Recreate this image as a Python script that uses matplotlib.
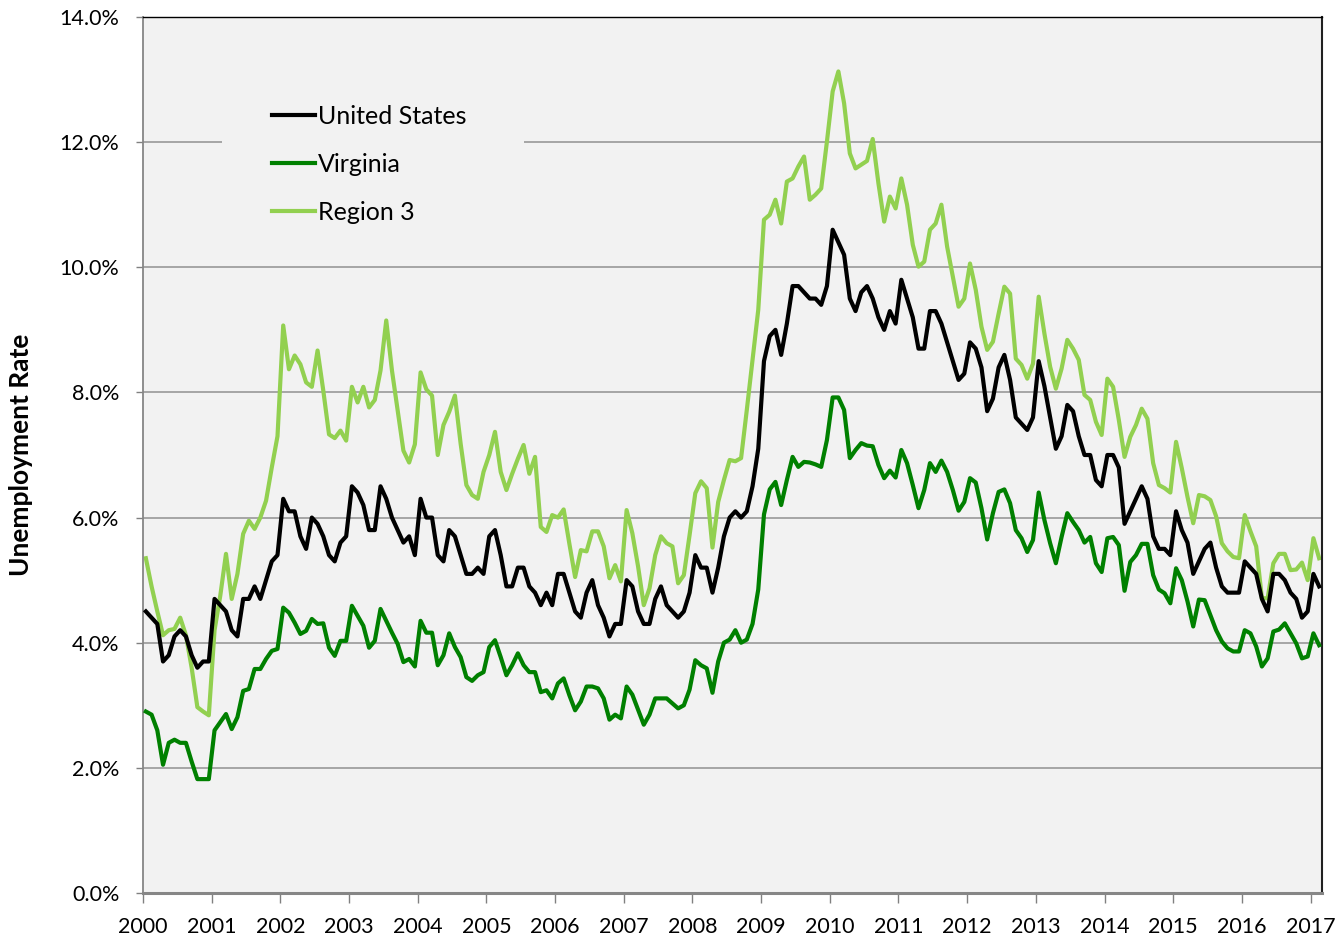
import numpy as np
import matplotlib.pyplot as plt
from matplotlib.patches import Rectangle
from matplotlib.ticker import PercentFormatter

plt.rcParams['font.family'] = ['Lato', 'DejaVu Sans']

# monthly rates, Jan 2000 - Feb 2017
years = [str(y) for y in range(2000, 2018)]

united_states = [
    4.5, 4.4, 4.3, 3.7, 3.8, 4.1, 4.2, 4.1, 3.8, 3.6, 3.7, 3.7,
    4.7, 4.6, 4.5, 4.2, 4.1, 4.7, 4.7, 4.9, 4.7, 5.0, 5.3, 5.4,
    6.3, 6.1, 6.1, 5.7, 5.5, 6.0, 5.9, 5.7, 5.4, 5.3, 5.6, 5.7,
    6.5, 6.4, 6.2, 5.8, 5.8, 6.5, 6.3, 6.0, 5.8, 5.6, 5.7, 5.4,
    6.3, 6.0, 6.0, 5.4, 5.3, 5.8, 5.7, 5.4, 5.1, 5.1, 5.2, 5.1,
    5.7, 5.8, 5.4, 4.9, 4.9, 5.2, 5.2, 4.9, 4.8, 4.6, 4.8, 4.6,
    5.1, 5.1, 4.8, 4.5, 4.4, 4.8, 5.0, 4.6, 4.4, 4.1, 4.3, 4.3,
    5.0, 4.9, 4.5, 4.3, 4.3, 4.7, 4.9, 4.6, 4.5, 4.4, 4.5, 4.8,
    5.4, 5.2, 5.2, 4.8, 5.2, 5.7, 6.0, 6.1, 6.0, 6.1, 6.5, 7.1,
    8.5, 8.9, 9.0, 8.6, 9.1, 9.7, 9.7, 9.6, 9.5, 9.5, 9.4, 9.7,
    10.6, 10.4, 10.2, 9.5, 9.3, 9.6, 9.7, 9.5, 9.2, 9.0, 9.3, 9.1,
    9.8, 9.5, 9.2, 8.7, 8.7, 9.3, 9.3, 9.1, 8.8, 8.5, 8.2, 8.3,
    8.8, 8.7, 8.4, 7.7, 7.9, 8.4, 8.6, 8.2, 7.6, 7.5, 7.4, 7.6,
    8.5, 8.1, 7.6, 7.1, 7.3, 7.8, 7.7, 7.3, 7.0, 7.0, 6.6, 6.5,
    7.0, 7.0, 6.8, 5.9, 6.1, 6.3, 6.5, 6.3, 5.7, 5.5, 5.5, 5.4,
    6.1, 5.8, 5.6, 5.1, 5.3, 5.5, 5.6, 5.2, 4.9, 4.8, 4.8, 4.8,
    5.3, 5.2, 5.1, 4.7, 4.5, 5.1, 5.1, 5.0, 4.8, 4.7, 4.4, 4.5,
    5.1, 4.9,
]

virginia = [
    2.90, 2.85, 2.60, 2.05, 2.40, 2.45, 2.40, 2.40, 2.10, 1.82, 1.82, 1.82,
    2.60, 2.73, 2.86, 2.62, 2.81, 3.23, 3.26, 3.58, 3.58, 3.74, 3.87, 3.90,
    4.56, 4.48, 4.32, 4.14, 4.19, 4.38, 4.30, 4.31, 3.92, 3.79, 4.03, 4.03,
    4.59, 4.43, 4.27, 3.92, 4.03, 4.54, 4.35, 4.16, 3.98, 3.69, 3.74, 3.62,
    4.35, 4.16, 4.16, 3.64, 3.80, 4.15, 3.93, 3.77, 3.45, 3.39, 3.48, 3.53,
    3.93, 4.04, 3.77, 3.48, 3.64, 3.83, 3.64, 3.53, 3.53, 3.21, 3.24, 3.11,
    3.35, 3.43, 3.16, 2.92, 3.06, 3.30, 3.30, 3.27, 3.11, 2.77, 2.85, 2.79,
    3.30, 3.17, 2.93, 2.69, 2.85, 3.11, 3.11, 3.11, 3.03, 2.95, 3.00, 3.25,
    3.72, 3.64, 3.59, 3.20, 3.70, 4.00, 4.05, 4.20, 4.00, 4.05, 4.30, 4.85,
    6.05, 6.45, 6.57, 6.20, 6.60, 6.97, 6.81, 6.89, 6.88, 6.85, 6.81, 7.24,
    7.92, 7.92, 7.72, 6.95, 7.08, 7.19, 7.15, 7.14, 6.84, 6.63, 6.75, 6.64,
    7.08, 6.87, 6.52, 6.15, 6.44, 6.87, 6.73, 6.91, 6.73, 6.44, 6.11, 6.25,
    6.63, 6.56, 6.15, 5.65, 6.07, 6.41, 6.45, 6.23, 5.80, 5.67, 5.45, 5.64,
    6.40, 5.96, 5.59, 5.27, 5.69, 6.07, 5.93, 5.80, 5.60, 5.69, 5.27, 5.13,
    5.67, 5.69, 5.56, 4.83, 5.29, 5.40, 5.58, 5.58, 5.08, 4.85, 4.79, 4.63,
    5.19, 5.00, 4.66, 4.26, 4.69, 4.68, 4.44, 4.20, 4.02, 3.91, 3.86, 3.86,
    4.20, 4.15, 3.94, 3.62, 3.75, 4.18, 4.21, 4.31, 4.15, 3.99, 3.75, 3.78,
    4.15, 3.96,
]

region_3 = [
    5.35, 4.90, 4.50, 4.12, 4.20, 4.22, 4.40, 4.12, 3.60, 2.97, 2.90, 2.84,
    4.20, 4.75, 5.42, 4.70, 5.10, 5.74, 5.95, 5.82, 6.00, 6.27, 6.80, 7.30,
    9.07, 8.37, 8.59, 8.45, 8.16, 8.09, 8.67, 8.03, 7.33, 7.27, 7.39, 7.23,
    8.09, 7.84, 8.09, 7.76, 7.88, 8.35, 9.15, 8.35, 7.71, 7.07, 6.88, 7.17,
    8.32, 8.05, 7.95, 7.00, 7.48, 7.69, 7.95, 7.18, 6.52, 6.36, 6.30, 6.73,
    7.00, 7.37, 6.73, 6.44, 6.70, 6.94, 7.16, 6.70, 6.97, 5.85, 5.77, 6.04,
    6.00, 6.13, 5.58, 5.05, 5.48, 5.46, 5.78, 5.78, 5.54, 5.03, 5.24, 4.98,
    6.12, 5.75, 5.22, 4.60, 4.87, 5.40, 5.70, 5.59, 5.54, 4.95, 5.08, 5.72,
    6.39, 6.58, 6.47, 5.52, 6.25, 6.60, 6.92, 6.90, 6.95, 7.72, 8.52, 9.32,
    10.76, 10.84, 11.08, 10.70, 11.37, 11.42, 11.61, 11.77, 11.08, 11.16, 11.26, 12.01,
    12.81, 13.13, 12.62, 11.82, 11.58, 11.64, 11.70, 12.05, 11.34, 10.73, 11.13, 10.94,
    11.42, 11.00, 10.36, 10.01, 10.09, 10.60, 10.70, 11.00, 10.33, 9.85, 9.37, 9.50,
    10.06, 9.64, 9.05, 8.68, 8.81, 9.26, 9.69, 9.58, 8.54, 8.44, 8.22, 8.46,
    9.53, 8.94, 8.41, 8.06, 8.38, 8.84, 8.70, 8.52, 7.96, 7.88, 7.53, 7.32,
    8.22, 8.09, 7.56, 6.97, 7.29, 7.48, 7.74, 7.58, 6.87, 6.52, 6.47, 6.40,
    7.21, 6.79, 6.33, 5.91, 6.36, 6.34, 6.28, 6.02, 5.59, 5.46, 5.37, 5.35,
    6.04, 5.78, 5.54, 4.71, 4.71, 5.27, 5.42, 5.42, 5.16, 5.17, 5.28, 5.00,
    5.67, 5.35,
]

W, H = 1343, 939
fig = plt.figure(figsize=(W / 100, H / 100), dpi=100)
ax = fig.add_axes([143 / W, 1 - 893 / H, 1179 / W, 876 / H])
ax.set_facecolor('#f2f2f2')

x = np.arange(len(united_states))
ax.plot(x, united_states, color='black', lw=3, label='United States', zorder=4)
ax.plot(x, virginia, color='#008000', lw=3, label='Virginia', zorder=3)
ax.plot(x, region_3, color='#92d050', lw=3, label='Region 3', zorder=2)

ax.set_xlim(-0.5, len(x) - 0.5)
ax.set_ylim(0, 14)
ax.set_yticks(np.arange(0, 15, 2))
ax.yaxis.set_major_formatter(PercentFormatter(decimals=1))
ax.set_xticks(np.arange(len(years)) * 12 - 0.5)
ax.set_xticklabels(years)
ax.tick_params(axis='both', labelsize=15.5, colors='#808080', labelcolor='black')
ax.tick_params(axis='x', length=7, width=1, pad=10)
ax.tick_params(axis='y', length=5, width=1, pad=12)

ax.set_axisbelow(True)
ax.grid(axis='y', color='#a0a0a0', lw=1.3)

ax.spines['top'].set_color('black')
ax.spines['top'].set_linewidth(1)
ax.spines['right'].set_color('#202020')
ax.spines['right'].set_linewidth(1.5)
ax.spines['left'].set_color('#868686')
ax.spines['left'].set_linewidth(1.3)
ax.spines['bottom'].set_color('#868686')
ax.spines['bottom'].set_linewidth(2.2)

ax.set_ylabel('Unemployment Rate', fontsize=19, fontweight='bold')
ax.yaxis.set_label_coords(-0.093, 0.5)

# legend sits on a plot-coloured box that hides the gridline behind it
ax.add_patch(Rectangle((0.067, 0.74), 0.256, 0.19, transform=ax.transAxes,
                       facecolor='#f2f2f2', edgecolor='none', zorder=1))
ax.legend(loc='upper left', bbox_to_anchor=(0.1094, 0.8995), frameon=False,
          fontsize=18, handlelength=1.72, handletextpad=0.12, labelspacing=1.0,
          borderpad=0, borderaxespad=0)

fig.savefig('out.png', dpi=100)
